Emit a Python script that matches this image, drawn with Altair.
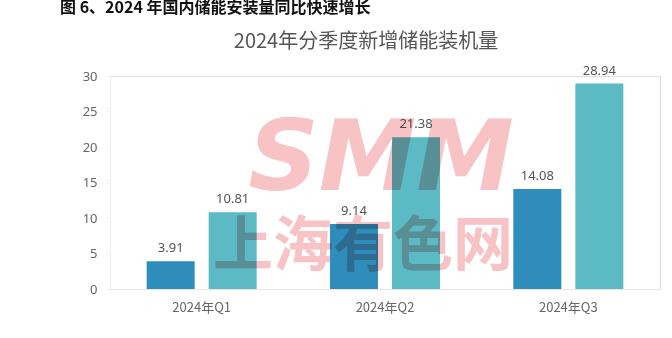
import altair as alt
import pandas as pd

quarters = ["2024年Q1", "2024年Q2", "2024年Q3"]
series_a = [3.91, 9.14, 14.08]
series_b = [10.81, 21.38, 28.94]
y_ticks = [0, 5, 10, 15, 20, 25, 30]

rows = []
for q, a, b in zip(quarters, series_a, series_b):
    rows.append({"quarter": q, "series": "A", "value": a, "label": f"{a:.2f}"})
    rows.append({"quarter": q, "series": "B", "value": b, "label": f"{b:.2f}"})
df = pd.DataFrame(rows)

x_enc = alt.X("quarter:N", sort=quarters,
              scale=alt.Scale(paddingInner=0.4, paddingOuter=0.2),
              axis=alt.Axis(title=None, labelAngle=0, ticks=False, labelPadding=12,
                            labelFontSize=13, labelColor="#666666", labelFont="Noto Sans CJK SC",
                            domainColor="#e6e6e6", domainWidth=1))
xo = alt.XOffset("series:N", scale=alt.Scale(paddingInner=0.226, paddingOuter=0))
y_enc = alt.Y("value:Q", scale=alt.Scale(domain=[0, 30], nice=False),
              axis=alt.Axis(title=None, values=y_ticks, tickCount=7, grid=False, labelPadding=10,
                            labelOverlap=False, labelFontSize=13, labelColor="#666666",
                            labelFont="Noto Sans",
                            domainColor="#eeeeee", tickColor="#eeeeee", tickSize=3))

bars = alt.Chart(df).mark_bar().encode(
    x=x_enc, xOffset=xo, y=y_enc,
    color=alt.Color("series:N", scale=alt.Scale(domain=["A", "B"], range=["#2E8DBA", "#5BBAC3"]),
                    legend=None),
)

labels = alt.Chart(df).mark_text(dy=-13, fontSize=13, color="#555555", font="Noto Sans").encode(
    x=x_enc, xOffset=xo, y=y_enc, text="label:N"
)

wm_df = pd.DataFrame({
    "quarter": ["2024年Q2", "2024年Q2"],
    "value": [18.0, 5.8],
    "text": ["SMM", "上海有色网"],
})
wm_smm = alt.Chart(wm_df.iloc[[0]]).mark_text(
    fontSize=98, font="DejaVu Sans", fontWeight="bold", fontStyle="oblique",
    color="#F7C3C4", blend="multiply", dx=-4
).encode(x=x_enc, y=y_enc, text="text:N")
wm_cn = alt.Chart(wm_df.iloc[[1]]).mark_text(
    fontSize=60, font="Noto Sans CJK SC", fontWeight="bold",
    color="#F7C3C4", blend="multiply", dx=-22
).encode(x=x_enc, y=y_enc, text="text:N")

caption = alt.Chart(pd.DataFrame({"t": ["图 6、2024 年国内储能安装量同比快速增长"]})).mark_text(
    align="left", baseline="middle", fontSize=16, fontWeight="bold", color="#111111",
    font="Noto Sans CJK SC"
).encode(x=alt.value(-50), y=alt.value(-68), text="t:N")

title = alt.Chart(pd.DataFrame({"t": ["2024年分季度新增储能装机量"]})).mark_text(
    align="center", baseline="middle", fontSize=20, color="#555555",
    font="Noto Sans CJK SC"
).encode(x=alt.value(256), y=alt.value(-34), text="t:N")

chart = alt.layer(bars, labels, wm_smm, wm_cn, caption, title).properties(
    width=550, height=213,
    padding={"left": 110, "top": 76, "right": 12, "bottom": 49},
    autosize=alt.AutoSizeParams(type="none"),
).configure_view(stroke=None).configure(background="white")

chart.save("out.html", embed_options={"renderer": "svg", "actions": False})
